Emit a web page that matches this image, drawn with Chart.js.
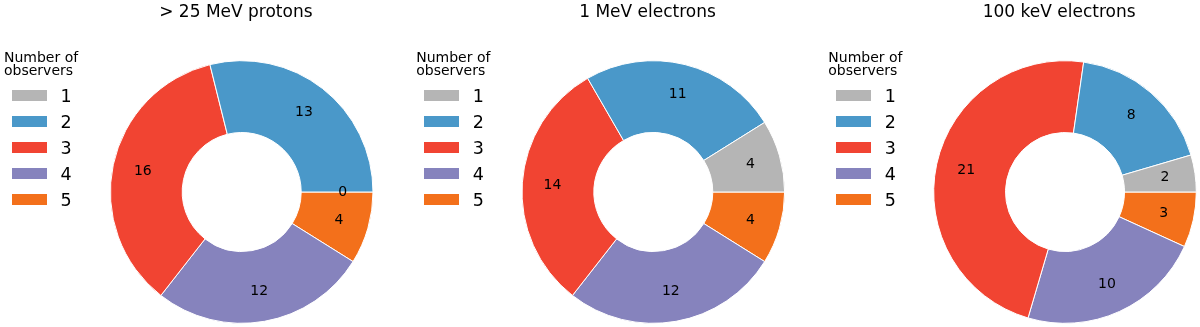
<!DOCTYPE html>
<html>
<head>
<meta charset="utf-8">
<script src="https://cdn.jsdelivr.net/npm/chart.js@4.4.1/dist/chart.umd.min.js"></script>
<style>
  html, body { margin:0; padding:0; background:#fff; overflow:hidden; width:1200px; height:327px;
    font-family:"DejaVu Sans", sans-serif; color:#000; }
  canvas { position:absolute; top:0; }
  .title { position:absolute; top:1px; font-size:17px; line-height:20px; white-space:nowrap; transform:translateX(-50%); }
  .lt { position:absolute; font-size:14px; line-height:13.3px; white-space:nowrap; }
  .row { position:absolute; height:26px; display:flex; align-items:center; }
  .box { width:35px; height:11px; }
  .lab { position:absolute; font-size:17.5px; line-height:26px; white-space:nowrap; }
</style>
</head>
<body>
<script>
// ---- data ----
const categories = ['1', '2', '3', '4', '5'];
const protons25MeV = [0, 13, 16, 12, 4];
const electrons1MeV = [4, 11, 14, 12, 4];
const electrons100keV = [2, 8, 21, 10, 3];
const panelTitles = ['> 25 MeV protons', '1 MeV electrons', '100 keV electrons'];
const legendTitleLines = ['Number of', 'observers'];

// ---- styles / layout ----
const palette = ['#b5b5b5', '#4a98c9', '#f14432', '#8683bd', '#f3701b'];
const seriesList = [protons25MeV, electrons1MeV, electrons100keV];
const pieCX = [241.7, 653.3, 1065];
const pieCY = 192;
const pieR = 130.8;      // visible outer radius
const holeR = 60;        // visible inner radius
const legendX = [4, 416.2, 828.3];

const valueLabels = {
  id: 'valueLabels',
  afterDatasetsDraw(chart) {
    const ctx = chart.ctx;
    const meta = chart.getDatasetMeta(0);
    const ds = chart.data.datasets[0];
    ctx.save();
    ctx.font = '14px "DejaVu Sans"';
    ctx.fillStyle = '#000';
    ctx.textAlign = 'center';
    ctx.textBaseline = 'middle';
    meta.data.forEach((arc, j) => {
      const p = arc.getProps(['x', 'y', 'startAngle', 'endAngle', 'outerRadius'], true);
      const a = (p.startAngle + p.endAngle) / 2;
      const r = p.outerRadius * 0.77;
      ctx.fillText(String(ds.data[j]), p.x + r * Math.cos(a), p.y + r * Math.sin(a));
    });
    ctx.restore();
  }
};

seriesList.forEach((series, i) => {
  const canvas = document.createElement('canvas');
  canvas.width = 400; canvas.height = 327;
  canvas.style.left = (i * 400) + 'px';
  canvas.style.width = '400px'; canvas.style.height = '327px';
  document.body.appendChild(canvas);

  const bw = 1;
  const outer = pieR + bw / 2;
  const S = 2 * outer + bw;
  const lx = pieCX[i] - i * 400;
  // matplotlib draws counter-clockwise from 3 o'clock; Chart.js draws clockwise,
  // so feed the categories in reverse order starting at 3 o'clock.
  const revLabels = categories.slice().reverse();
  const revData = series.slice().reverse();
  const revColors = palette.slice().reverse();

  new Chart(canvas, {
    type: 'doughnut',
    data: {
      labels: revLabels,
      datasets: [{
        data: revData,
        backgroundColor: revColors,
        borderColor: '#ffffff',
        borderWidth: bw,
        hoverOffset: 0
      }]
    },
    options: {
      responsive: false,
      animation: false,
      rotation: 90,
      circumference: 360,
      cutout: (holeR - bw / 2) / outer * 100 + '%',
      layout: {
        padding: {
          left: lx - S / 2,
          right: 400 - lx - S / 2,
          top: pieCY - S / 2,
          bottom: 327 - pieCY - S / 2
        }
      },
      plugins: {
        legend: { display: false },
        title: { display: false },
        tooltip: { enabled: false }
      },
      events: []
    },
    plugins: [valueLabels]
  });

  // title
  const t = document.createElement('div');
  t.className = 'title';
  t.style.left = (pieCX[i] - 5.8) + 'px';
  t.textContent = panelTitles[i];
  document.body.appendChild(t);

  // legend title
  const lt = document.createElement('div');
  lt.className = 'lt';
  lt.style.left = legendX[i] + 'px';
  lt.style.top = '50.5px';
  lt.innerHTML = legendTitleLines.join('<br>');
  document.body.appendChild(lt);

  // legend rows
  categories.forEach((c, j) => {
    const cyRow = 95.7 + j * 26;
    const row = document.createElement('div');
    row.className = 'row';
    row.style.left = (legendX[i] + 7.7) + 'px';
    row.style.top = (cyRow - 13) + 'px';
    const box = document.createElement('div');
    box.className = 'box';
    box.style.background = palette[j];
    row.appendChild(box);
    document.body.appendChild(row);
    const lab = document.createElement('div');
    lab.className = 'lab';
    lab.style.left = (legendX[i] + 56.5) + 'px';
    lab.style.top = (cyRow - 13) + 'px';
    lab.textContent = c;
    document.body.appendChild(lab);
  });
});
</script>
</body>
</html>
